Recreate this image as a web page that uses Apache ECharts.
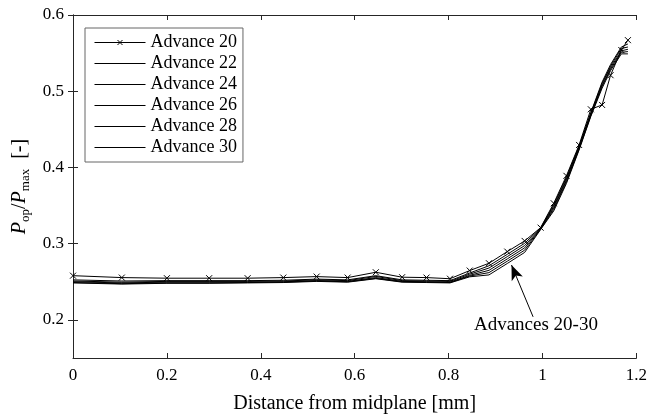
<!DOCTYPE html>
<html>
<head>
<meta charset="utf-8">
<script src="https://cdn.jsdelivr.net/npm/echarts@6/dist/echarts.min.js"></script>
<style>html,body{margin:0;padding:0;background:#fff}#c{width:650px;height:419px}</style>
</head>
<body>
<div id="c"></div>
<script>
const distance = [0, 0.104, 0.2, 0.29, 0.372, 0.448, 0.519, 0.585, 0.645, 0.701, 0.753, 0.803, 0.845, 0.886, 0.925, 0.962, 0.996, 1.024, 1.051, 1.078, 1.103, 1.127, 1.145, 1.168, 1.182];
const adv20 = [0.258, 0.2555, 0.2547, 0.2547, 0.2547, 0.2555, 0.2568, 0.2555, 0.2625, 0.256, 0.2555, 0.254, 0.2647, 0.2743, 0.2896, 0.3036, 0.321, 0.353, 0.389, 0.4295, 0.4763, 0.482, 0.521, 0.554, 0.567];
const adv22 = [0.2525, 0.251, 0.2515, 0.2515, 0.2515, 0.252, 0.2535, 0.2525, 0.258, 0.2525, 0.252, 0.2515, 0.2615, 0.271, 0.286, 0.3005, 0.3205, 0.351, 0.387, 0.428, 0.472, 0.512, 0.535, 0.558, 0.562];
const adv24 = [0.251, 0.2495, 0.2505, 0.2505, 0.2505, 0.251, 0.2525, 0.2515, 0.257, 0.2515, 0.251, 0.2505, 0.26, 0.268, 0.283, 0.2975, 0.32, 0.349, 0.385, 0.427, 0.471, 0.51, 0.533, 0.556, 0.558];
const adv26 = [0.25, 0.2485, 0.2495, 0.2495, 0.2495, 0.25, 0.2515, 0.2505, 0.2555, 0.2505, 0.25, 0.2495, 0.2585, 0.265, 0.28, 0.2945, 0.3195, 0.347, 0.383, 0.425, 0.469, 0.508, 0.531, 0.553, 0.555];
const adv28 = [0.249, 0.2475, 0.2485, 0.2485, 0.249, 0.2495, 0.251, 0.25, 0.2545, 0.25, 0.2495, 0.249, 0.2575, 0.262, 0.277, 0.2915, 0.319, 0.345, 0.381, 0.424, 0.468, 0.506, 0.529, 0.551, 0.552];
const adv30 = [0.2485, 0.247, 0.248, 0.248, 0.2485, 0.249, 0.2505, 0.2495, 0.254, 0.2495, 0.249, 0.2485, 0.2565, 0.259, 0.274, 0.2885, 0.3185, 0.343, 0.379, 0.423, 0.467, 0.504, 0.527, 0.549, 0.549];
const seriesNames = ['Advance 20', 'Advance 22', 'Advance 24', 'Advance 26', 'Advance 28', 'Advance 30'];
const seriesValues = [adv20, adv22, adv24, adv26, adv28, adv30];
const yTicks = [0.2, 0.3, 0.4, 0.5, 0.6];
const xTicks = [0, 0.2, 0.4, 0.6, 0.8, 1, 1.2];
const arrowFrom = [0.98, 0.204];
const arrowTo = [0.934, 0.272];
const noteText = 'Advances 20-30';
const notePos = [0.986, 0.1934];

const FONT = 'Liberation Serif';
const AX = '#262626';
const CROSS = 'path://M0,0L10,10M10,0L0,10';
const LEG_LINE = 'path://M0,0M0,7L51,7M51,14';
const LEG_CROSS = 'path://M0,0M0,7L51,7M23,4.5L28,9.5M28,4.5L23,9.5M51,14';

const series = seriesNames.map((name, i) => {
  const s = {
    name: name,
    type: 'line',
    data: distance.map((x, j) => [x, seriesValues[i][j]]),
    lineStyle: { color: '#000', width: 1 },
    itemStyle: { color: '#000', borderColor: '#000', borderWidth: 1 },
    symbol: i === 0 ? CROSS : 'none',
    symbolSize: 6,
    showSymbol: i === 0,
    animation: false,
    z: 3
  };
  if (i === seriesNames.length - 1) {
    s.markLine = {
      silent: true,
      animation: false,
      label: { show: false },
      lineStyle: { color: '#000', width: 1, type: 'solid' },
      data: [[
        { coord: arrowFrom, symbol: 'none' },
        { coord: arrowTo, symbol: 'arrow', symbolSize: [9, 15] }
      ]]
    };
    s.markPoint = {
      silent: true,
      animation: false,
      data: [{
        coord: notePos, symbol: 'circle', symbolSize: 0,
        label: { show: true, position: 'inside', formatter: noteText, color: '#000', fontSize: 19, fontFamily: FONT }
      }]
    };
  }
  return s;
});

const fmt = v => String(parseFloat(Number(v).toFixed(2)));

const chart = echarts.init(document.getElementById('c'), null, { renderer: 'canvas' });
chart.setOption({
  animation: false,
  backgroundColor: '#fff',
  grid: { left: 73, right: 13, top: 15, bottom: 61, containLabel: false },
  legend: {
    orient: 'vertical',
    left: 85, top: 28,
    padding: [5, 6, 5, 7],
    itemWidth: 51, itemHeight: 14, itemGap: 2,
    borderColor: '#666', borderWidth: 1,
    backgroundColor: '#fff',
    itemStyle: { color: 'none', borderColor: '#000', borderWidth: 1 },
    textStyle: { fontFamily: FONT, fontSize: 18, color: '#000' },
    data: seriesNames.map((n, i) => ({ name: n, icon: i === 0 ? LEG_CROSS : LEG_LINE }))
  },
  xAxis: [{
    type: 'value', min: 0, max: 1.2, interval: 0.2,
    axisLine: { show: true, lineStyle: { color: AX, width: 1 } },
    axisTick: { show: true, inside: true, length: 5, lineStyle: { color: AX } },
    axisLabel: { fontFamily: FONT, fontSize: 17, color: '#000', margin: 9, formatter: fmt },
    splitLine: { show: false },
    name: 'Distance from midplane [mm]',
    nameLocation: 'middle', nameGap: 36,
    nameTextStyle: { fontFamily: FONT, fontSize: 20, color: '#000' }
  }, {
    type: 'value', min: 0, max: 1.2, interval: 0.2, position: 'top',
    axisLine: { show: true, lineStyle: { color: AX, width: 1 } },
    axisTick: { show: true, inside: true, length: 5, lineStyle: { color: AX } },
    axisLabel: { show: false }, splitLine: { show: false }
  }],
  yAxis: [{
    type: 'value', min: 0.15, max: 0.6,
    axisLine: { show: true, lineStyle: { color: AX, width: 1 } },
    axisTick: { show: true, inside: true, length: 5, lineStyle: { color: AX }, customValues: yTicks },
    axisLabel: { fontFamily: FONT, fontSize: 17, color: '#000', margin: 9, formatter: fmt, customValues: yTicks },
    splitLine: { show: false },
    name: '{i|P}{s|op}{n|/}{i|P}{s|max}{n|  [-]}',
    nameLocation: 'middle', nameGap: 40, nameRotate: 90,
    nameTextStyle: {
      color: '#000', fontFamily: FONT,
      rich: {
        i: { fontFamily: FONT, fontStyle: 'italic', fontSize: 20, color: '#000', lineHeight: 24, verticalAlign: 'middle' },
        n: { fontFamily: FONT, fontSize: 20, color: '#000', lineHeight: 24, verticalAlign: 'middle' },
        s: { fontFamily: FONT, fontSize: 13, color: '#000', lineHeight: 24, verticalAlign: 'bottom', padding: [8, 0, 0, 0] }
      }
    }
  }, {
    type: 'value', min: 0.15, max: 0.6, position: 'right',
    axisLine: { show: true, lineStyle: { color: AX, width: 1 } },
    axisTick: { show: true, inside: true, length: 5, lineStyle: { color: AX }, customValues: yTicks },
    axisLabel: { show: false, customValues: yTicks }, splitLine: { show: false }
  }],
  series: series
});
</script>
</body>
</html>
